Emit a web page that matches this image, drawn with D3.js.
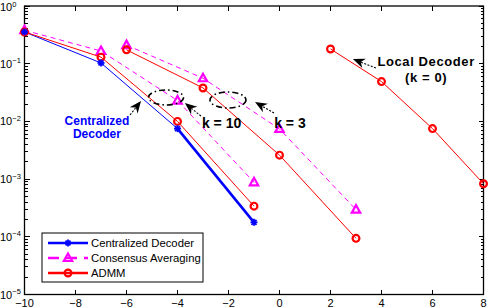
<!DOCTYPE html>
<html>
<head>
<meta charset="utf-8">
<script src="https://cdn.jsdelivr.net/npm/d3@7"></script>
<style>
  body { margin: 0; background: #fff; }
  svg { display: block; font-family: "Liberation Sans", Arial, Helvetica, sans-serif; }
</style>
</head>
<body>
<svg id="chart"></svg>
<script>
// SNR-like x values for the three groups of curves
const xK10 = [-10, -7, -4, -1]
const xK3 = [-6, -3, 0, 3]
const xK0 = [2, 4, 6, 8]

// error rates
const centralized = [0.355, 0.103, 0.0075, 1.78e-4]
const consensusK10 = [0.38, 0.166, 0.023, 8.8e-4]
const consensusK3 = [0.21, 0.056, 0.0074, 2.96e-4]
const admmK10 = [0.355, 0.13, 0.0100, 3.4e-4]
const admmK3 = [0.174, 0.038, 0.0026, 9.4e-5]
const admmK0 = [0.18, 0.049, 0.0075, 8.3e-4]

const xTicks = [-10, -8, -6, -4, -2, 0, 2, 4, 6, 8]
const yTicks = [1e0, 1e-1, 1e-2, 1e-3, 1e-4, 1e-5]
const yExp = ['0', '\u22121', '\u22122', '\u22123', '\u22124', '\u22125']
const legendNames = ['Centralized Decoder', 'Consensus Averaging', 'ADMM']

const width = 488, height = 308
const margin = { top: 6, right: 4.5, bottom: 13.5, left: 24.5 }

const svg = d3.select('#chart').attr('width', width).attr('height', height)

const x = d3.scaleLinear().domain([-10, 8]).range([margin.left, width - margin.right])
const y = d3.scaleLog().domain([1e-5, 1]).range([height - margin.bottom, margin.top])

const BLUE = '#0000ff', RED = '#ff0000', MAG = '#ff00ff'

// ---- axes box & ticks (MATLAB style, ticks inward on all sides)
const ax = svg.append('g')
const minor = []
for (let e = -5; e < 0; e++) for (let m = 2; m <= 9; m++) minor.push(m * Math.pow(10, e))

xTicks.forEach(t => {
    ax.append('line').attr('x1', x(t)).attr('x2', x(t)).attr('y1', y.range()[0]).attr('y2', y.range()[0] - 5)
    ax.append('line').attr('x1', x(t)).attr('x2', x(t)).attr('y1', y.range()[1]).attr('y2', y.range()[1] + 5)
    ax.append('text').attr('x', x(t)).attr('y', 306.5).attr('text-anchor', 'middle')
        .attr('font-size', 11).text(t < 0 ? '\u2212' + (-t) : t)
})
yTicks.forEach((t, i) => {
    ax.append('line').attr('x1', x.range()[0]).attr('x2', x.range()[0] + 5).attr('y1', y(t)).attr('y2', y(t))
    ax.append('line').attr('x1', x.range()[1]).attr('x2', x.range()[1] - 5).attr('y1', y(t)).attr('y2', y(t))
    const lab = ax.append('text').attr('x', 0).attr('y', Math.max(y(t) + 4, 11)).attr('font-size', 11)
    lab.append('tspan').text('10')
    lab.append('tspan').attr('dy', -4.5).attr('font-size', 7.5).text(yExp[i])
})
minor.forEach(t => {
    ax.append('line').attr('x1', x.range()[0]).attr('x2', x.range()[0] + 3).attr('y1', y(t)).attr('y2', y(t))
    ax.append('line').attr('x1', x.range()[1]).attr('x2', x.range()[1] - 3).attr('y1', y(t)).attr('y2', y(t))
})
ax.selectAll('line').attr('stroke', '#000').attr('stroke-width', 1).attr('shape-rendering', 'crispEdges')
ax.append('rect')
    .attr('x', x.range()[0]).attr('y', y.range()[1])
    .attr('width', x.range()[1] - x.range()[0]).attr('height', y.range()[0] - y.range()[1])
    .attr('fill', 'none').attr('stroke', '#000').attr('stroke-width', 1.3)

// ---- markers
function star(g, cx, cy, s) {
    const p = g.append('g').attr('transform', `translate(${cx},${cy})`)
        .attr('stroke', BLUE).attr('stroke-width', 1.8)
    ;[0, 45, 90, 135].forEach(a => {
        const r = a * Math.PI / 180
        p.append('line').attr('x1', -s * Math.cos(r)).attr('y1', -s * Math.sin(r))
            .attr('x2', s * Math.cos(r)).attr('y2', s * Math.sin(r))
    })
}
function tri(g, cx, cy) {
    g.append('path').attr('d', `M${cx},${cy - 4.5}L${cx + 4.2},${cy + 3}L${cx - 4.2},${cy + 3}Z`)
        .attr('fill', 'none').attr('stroke', MAG).attr('stroke-width', 2.2).attr('stroke-linejoin', 'miter')
}
function circ(g, cx, cy) {
    g.append('circle').attr('cx', cx).attr('cy', cy).attr('r', 3.4)
        .attr('fill', 'none').attr('stroke', RED).attr('stroke-width', 2.2)
}

const line = d3.line().x(d => x(d[0])).y(d => y(d[1]))
const plot = svg.append('g')

function series(xs, ys, color, dash, marker) {
    const pts = xs.map((v, i) => [v, ys[i]])
    plot.append('path').attr('d', line(pts)).attr('fill', 'none')
        .attr('stroke', color).attr('stroke-width', 1).attr('stroke-dasharray', dash)
    pts.forEach(p => marker(plot, x(p[0]), y(p[1])))
}

// blue: thin up to -4, thick afterwards
const cPts = xK10.map((v, i) => [v, centralized[i]])
plot.append('path').attr('d', line(cPts.slice(0, 3))).attr('fill', 'none').attr('stroke', BLUE).attr('stroke-width', 1)
plot.append('path').attr('d', line(cPts.slice(2))).attr('fill', 'none').attr('stroke', BLUE).attr('stroke-width', 2.6)

series(xK10, consensusK10, MAG, '5,4', tri)
series(xK3, consensusK3, MAG, '5,4', tri)
series(xK10, admmK10, RED, null, circ)
series(xK3, admmK3, RED, null, circ)
series(xK0, admmK0, RED, null, circ)
cPts.forEach(p => star(plot, x(p[0]), y(p[1]), 3.5))

// ---- annotations
const ann = svg.append('g')
function arrow(tip, tail) {
    const tx = x(tip[0]), ty = y(tip[1]), sx = x(tail[0]), sy = y(tail[1])
    const a = Math.atan2(ty - sy, tx - sx)
    const L = 12, W = 5
    const bx = tx - L * Math.cos(a), by = ty - L * Math.sin(a)
    const nx = tx - L * 0.7 * Math.cos(a), ny = ty - L * 0.7 * Math.sin(a)
    ann.append('line').attr('x1', sx).attr('y1', sy).attr('x2', nx).attr('y2', ny)
        .attr('stroke', '#000').attr('stroke-width', 1.1).attr('stroke-dasharray', '2,1.5')
    ann.append('path')
        .attr('d', `M${tx},${ty}L${bx + W * Math.sin(a)},${by - W * Math.cos(a)}L${nx},${ny}L${bx - W * Math.sin(a)},${by + W * Math.cos(a)}Z`)
        .attr('fill', '#000')
}
function ellipse(c, rx, ry) {
    ann.append('ellipse').attr('cx', x(c[0])).attr('cy', y(c[1])).attr('rx', rx).attr('ry', ry)
        .attr('fill', 'none').attr('stroke', '#000').attr('stroke-width', 1.6)
        .attr('stroke-dasharray', '6,3,1.5,3')
}
function label(p, lines, color, size, dy, ls) {
    const t = ann.append('text').attr('x', x(p[0])).attr('y', y(p[1])).attr('text-anchor', 'middle')
        .attr('font-weight', 'bold').attr('font-size', size).attr('fill', color)
        .attr('letter-spacing', ls || 0)
    lines.forEach((s, i) => t.append('tspan').attr('x', x(p[0])).attr('dy', i ? dy : 0).text(s))
}

ellipse([-4.45, 0.026], 17.5, 7.5)
ellipse([-2.02, 0.0235], 18, 8)
arrow([-5.43, 0.0226], [-5.86, 0.0129])
arrow([-3.71, 0.0208], [-3.08, 0.0124])
arrow([-0.96, 0.0217], [-0.216, 0.014])
arrow([2.88, 0.1206], [3.78, 0.0842])

label([-7.16, 0.00867], ['Centralized', 'Decoder'], BLUE, 12, 13)
label([-2.27, 0.00769], ['k = 10'], '#000', 14, 0)
label([0.41, 0.00769], ['k = 3'], '#000', 14, 0)
label([5.75, 0.0925], ['Local Decoder', '(k = 0)'], '#000', 13, 16, 0.6)

// ---- legend
const lg = svg.append('g').attr('transform', 'translate(42,233)')
lg.append('rect').attr('width', 161).attr('height', 49).attr('fill', '#fff')
    .attr('stroke', '#000').attr('stroke-width', 1)
const legendStyle = [
    { color: BLUE, dash: null, m: (g, cx, cy) => star(g, cx, cy, 3.5) },
    { color: MAG, dash: '11,7', m: tri },
    { color: RED, dash: null, m: circ },
]
legendNames.forEach((n, i) => {
    const cy = 10 + i * 15
    const s = legendStyle[i]
    lg.append('line').attr('x1', 6).attr('x2', 46).attr('y1', cy).attr('y2', cy)
        .attr('stroke', s.color).attr('stroke-width', 2.6).attr('stroke-dasharray', s.dash)
    s.m(lg, 26, cy)
    lg.append('text').attr('x', 49).attr('y', cy + 4).attr('font-size', 11.3).text(n)
})
</script>
</body>
</html>
